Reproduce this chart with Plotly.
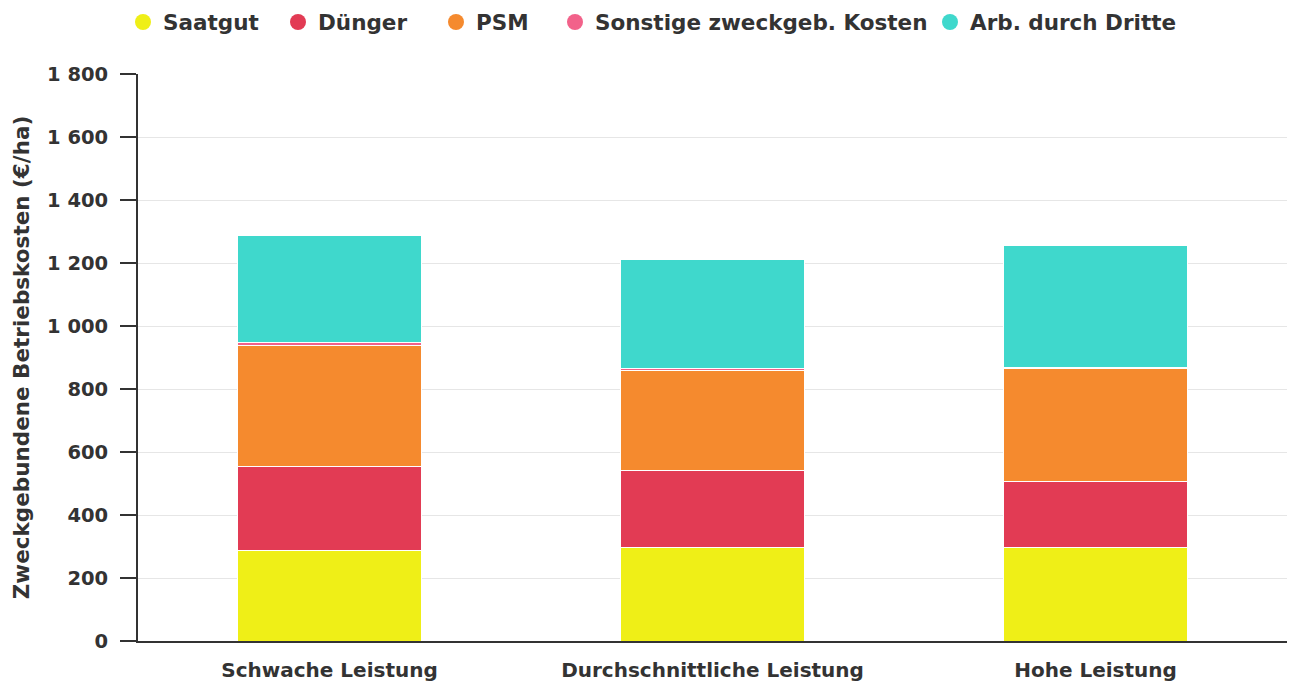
import plotly.graph_objects as go

categories = ["Schwache Leistung", "Durchschnittliche Leistung", "Hohe Leistung"]
series_names = ["Saatgut", "Dünger", "PSM", "Sonstige zweckgeb. Kosten", "Arb. durch Dritte"]
saatgut = [287, 296, 297]
duenger = [266, 245, 208]
psm = [384, 319, 361]
sonstige = [10, 4, 1]
arb_dritte = [339, 348, 387]
y_ticks = [0, 200, 400, 600, 800, 1000, 1200, 1400, 1600, 1800]

series_values = [saatgut, duenger, psm, sonstige, arb_dritte]
colors = ["#EFEF17", "#E23B54", "#F58A2E", "#F2628A", "#3FD8CC"]

FONT = "DejaVu Sans"
TXT = "#333333"

# plot area in pixels
W, H = 1292, 686
L, R, T, B = 138, 5, 74, 45
PW = W - L - R
PH = H - T - B

def px_x(p):
    return (p - L) / PW

def px_y(p):
    return (H - B - p) / PH

fig = go.Figure()
for name, vals, col in zip(series_names, series_values, colors):
    fig.add_trace(go.Bar(
        name=name, x=categories, y=vals,
        marker=dict(color=col, line=dict(color="white", width=1)),
        showlegend=False,
    ))

# legend entries (circles) each in own legend for exact placement
legend_circle_px = [143, 298, 456, 575, 950]
legend_ids = ["legend", "legend2", "legend3", "legend4", "legend5"]
legend_layouts = {}
for name, col, cx, lid in zip(series_names, colors, legend_circle_px, legend_ids):
    fig.add_trace(go.Scatter(
        x=[None], y=[None], mode="markers", name=name,
        marker=dict(color=col, size=19, symbol="circle"),
        legend=lid, showlegend=True,
    ))
    legend_layouts[lid] = dict(
        x=px_x(cx - 20), xanchor="left", y=px_y(22), yanchor="middle",
        font=dict(family=FONT, size=21.5, color=TXT, weight="bold"),
        bgcolor="rgba(0,0,0,0)", borderwidth=0, tracegroupgap=0,
        itemclick=False, itemdoubleclick=False,
    )

fig.update_layout(
    width=W, height=H,
    margin=dict(l=L, r=R, t=T, b=B, pad=0, autoexpand=False),
    plot_bgcolor="white", paper_bgcolor="white",
    barmode="stack", bargap=0.522,
    separators=", ",
    font=dict(family=FONT, color=TXT),
    **legend_layouts,
)

fig.update_yaxes(
    range=[0, 1800], tickvals=y_ticks, tickformat=",d",
    showgrid=True, gridcolor="#e6e6e6", gridwidth=1,
    showline=True, linecolor="#333333", linewidth=2,
    ticks="outside", ticklen=16, tickwidth=2, tickcolor="#333333",
    ticklabelstandoff=8,
    tickfont=dict(family=FONT, size=19.5, color=TXT, weight="bold"),
    title=dict(text="Zweckgebundene Betriebskosten (€/ha)", standoff=12,
               font=dict(family=FONT, size=21.5, color=TXT, weight="bold")),
    zeroline=False, fixedrange=True,
)
fig.update_xaxes(
    showline=True, linecolor="#333333", linewidth=2,
    ticks="", showgrid=False,
    ticklabelstandoff=10,
    tickfont=dict(family=FONT, size=20, color=TXT, weight="bold"),
    fixedrange=True,
)

fig.write_html(
    "out.html",
    config={"displayModeBar": False},
    post_script="document.body.style.margin='0';document.body.style.overflow='hidden';",
)
